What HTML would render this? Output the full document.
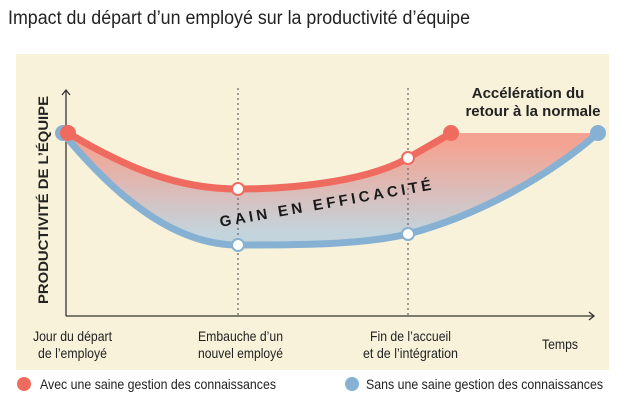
<!DOCTYPE html>
<html><head><meta charset="utf-8"><style>
body{margin:0;background:#fff;width:624px;height:411px;overflow:hidden;font-family:"Liberation Sans",sans-serif}
</style></head><body>
<svg width="624" height="411" viewBox="0 0 624 411" xmlns="http://www.w3.org/2000/svg" font-family="Liberation Sans, sans-serif">
<defs>
<linearGradient id="g" x1="0" y1="0" x2="0" y2="1">
<stop offset="0.1" stop-color="#f4a392"/>
<stop offset="0.9" stop-color="#c3d4dd"/>
</linearGradient>
</defs>
<text x="8" y="24" font-size="19" fill="#222" textLength="462" lengthAdjust="spacingAndGlyphs">Impact du départ d’un employé sur la productivité d’équipe</text>
<rect x="16" y="54" width="593" height="316" fill="#f8f2da"/>
<path d="M68,133 C130,170 180,189 238,189 C300,189 370,180 408,158 C425,148 440,140 451,133 L598,133 C550,175 480,215 408,234 C360,245 300,245 238,245 C170,245 110,190 63,133 Z" fill="url(#g)"/>
<line x1="238" y1="88" x2="238" y2="316" stroke="#666" stroke-width="1.2" stroke-dasharray="2,3"/>
<line x1="408" y1="88" x2="408" y2="316" stroke="#666" stroke-width="1.2" stroke-dasharray="2,3"/>
<line x1="66" y1="90" x2="66" y2="316" stroke="#333" stroke-width="1.3"/>
<polyline points="62,95 66,90 70,95" fill="none" stroke="#333" stroke-width="1.3"/>
<line x1="66" y1="316" x2="594" y2="316" stroke="#333" stroke-width="1.3"/>
<polyline points="589,312 594,316 589,320" fill="none" stroke="#333" stroke-width="1.3"/>
<path d="M63,133 C110,190 170,245 238,245 C300,245 360,245 408,234 C480,215 550,175 598,133" fill="none" stroke="#86b1d3" stroke-width="7"/>
<path d="M68,133 C130,170 180,189 238,189 C300,189 370,180 408,158 C425,148 440,140 451,133" fill="none" stroke="#f06b5f" stroke-width="7"/>
<circle cx="63" cy="133" r="8" fill="#86b1d3"/>
<circle cx="598" cy="133" r="8" fill="#86b1d3"/>
<circle cx="68" cy="133" r="8" fill="#f06b5f"/>
<circle cx="451" cy="133" r="8" fill="#f06b5f"/>
<circle cx="238" cy="189" r="6" fill="#fff" stroke="#f06b5f" stroke-width="2"/>
<circle cx="408" cy="158" r="6" fill="#fff" stroke="#f06b5f" stroke-width="2"/>
<circle cx="238" cy="245" r="6" fill="#fff" stroke="#86b1d3" stroke-width="2"/>
<circle cx="408" cy="234" r="6" fill="#fff" stroke="#86b1d3" stroke-width="2"/>
<text transform="translate(328,208) rotate(-10)" text-anchor="middle" font-weight="bold" font-size="15" letter-spacing="3.5" fill="#1a1a1a">GAIN EN EFFICACITÉ</text>
<text x="528" y="98" text-anchor="middle" font-weight="bold" font-size="15" fill="#222">Accélération du</text>
<text x="533" y="116" text-anchor="middle" font-weight="bold" font-size="15" fill="#222">retour à la normale</text>
<text transform="translate(48,200) rotate(-90)" text-anchor="middle" font-weight="bold" font-size="14" fill="#222" textLength="208" lengthAdjust="spacingAndGlyphs">PRODUCTIVITÉ DE L’ÉQUIPE</text>
<g font-size="14" fill="#222">
<text x="33" y="341" textLength="79" lengthAdjust="spacingAndGlyphs">Jour du départ</text>
<text x="38" y="358" textLength="69" lengthAdjust="spacingAndGlyphs">de l’employé</text>
<text x="198" y="341" textLength="85" lengthAdjust="spacingAndGlyphs">Embauche d’un</text>
<text x="198" y="358" textLength="85" lengthAdjust="spacingAndGlyphs">nouvel employé</text>
<text x="370" y="341" textLength="81" lengthAdjust="spacingAndGlyphs">Fin de l’accueil</text>
<text x="363" y="358" textLength="95" lengthAdjust="spacingAndGlyphs">et de l’intégration</text>
<text x="542" y="349" textLength="36" lengthAdjust="spacingAndGlyphs">Temps</text>
</g>
<circle cx="24" cy="384" r="7" fill="#f06b5f"/>
<text x="40" y="389" font-size="14" fill="#222" textLength="236" lengthAdjust="spacingAndGlyphs">Avec une saine gestion des connaissances</text>
<circle cx="352" cy="384" r="7" fill="#86b1d3"/>
<text x="366" y="389" font-size="14" fill="#222" textLength="237" lengthAdjust="spacingAndGlyphs">Sans une saine gestion des connaissances</text>
</svg>
</body></html>
